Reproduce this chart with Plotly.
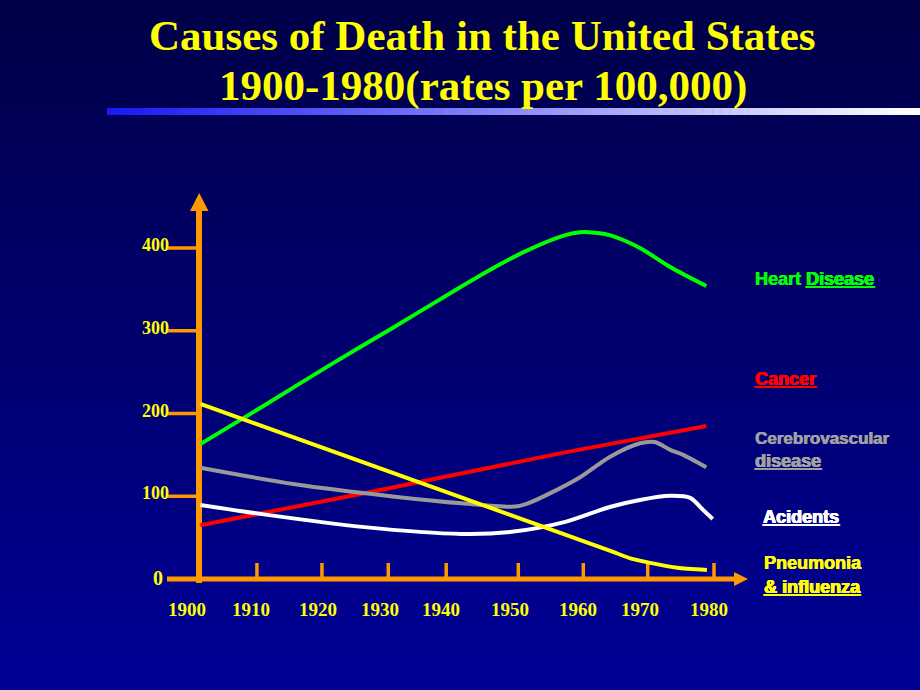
import plotly.graph_objects as go

# ---------------- data ----------------
heart_years = [1900.2, 1910.0, 1920.0, 1930.0, 1939.8, 1946.0, 1951.1, 1956.9, 1959.2, 1961.5, 1963.8, 1968.5, 1973.2, 1978.8]
heart = [163, 209, 257, 303, 349, 377, 397.5, 415.5, 419, 418.5, 415.5, 400, 377, 354]

cancer_years = [1900.2, 1925.3, 1956.9, 1978.8]
cancer = [65, 103, 153, 185]

cerebro_years = [1900.2, 1914.9, 1930.4, 1940.8, 1949.1, 1951.1, 1954.5, 1959.2, 1963.8, 1968.5, 1970.8, 1973.2, 1975.2, 1978.8]
cerebro = [134.5, 114.5, 99.5, 91.5, 87.5, 91.5, 103.5, 123, 147.5, 164, 165.5, 156, 150, 135]

accidents_years = [1900.2, 1909.7, 1925.3, 1940.8, 1948.6, 1956.9, 1963.8, 1968.5, 1973.2, 1976.3, 1978.3, 1979.8]
accidents = [89.5, 78.5, 63, 54.5, 57, 69, 87, 95.5, 100.5, 98, 83.5, 72.5]

pneumonia_years = [1900.2, 1930.0, 1963.8, 1967.0, 1970.1, 1974.3, 1978.9]
pneumonia = [211.7, 128.6, 34.3, 25.0, 19.5, 13.5, 11]

x_tick_labels = ["1900", "1910", "1920", "1930", "1940", "1950", "1960", "1970", "1980"]
x_label_pos = [1898.1, 1908.1, 1918.5, 1928.1, 1937.6, 1948.3, 1958.9, 1968.5, 1979.2]
x_tick_marks = [1909.0, 1919.1, 1929.4, 1938.4, 1949.6, 1959.7, 1969.7, 1980.0]
y_tick_vals = [100, 200, 300, 400]
y_tick_labels = ["100", "200", "300", "400"]

title_line1 = "Causes of Death in the United States"
title_line2 = "1900-1980(rates per 100,000)"

# ---------------- geometry helpers ----------------
W, H = 920, 690
X0_PX, PX_PER_YEAR = 199.0, 6.4375
Y0_PX, PX_PER_UNIT = 579.0, 0.8275


def xd(px):
    return 1900 + (px - X0_PX) / PX_PER_YEAR


def yd(py):
    return (Y0_PX - py) / PX_PER_UNIT


ORANGE = "#FF9900"
YELLOW = "#FFFF00"

fig = go.Figure()

series = [
    (heart_years, heart, "#00FF00", "Heart Disease", 0.8),
    (cancer_years, cancer, "#FF0000", "Cancer", 0.8),
    (cerebro_years, cerebro, "#999999", "Cerebrovascular disease", 0.8),
    (accidents_years, accidents, "#FFFFFF", "Acidents", 0.8),
    (pneumonia_years, pneumonia, "#FFFF00", "Pneumonia & influenza", 0.6),
]
for xs, ys, col, name, sm in series:
    fig.add_trace(go.Scatter(x=xs, y=ys, mode="lines", name=name,
                             line=dict(color=col, width=4, shape="spline", smoothing=sm),
                             hoverinfo="skip"))

shapes = []
# background gradient
N = 69
top = (0, 0, 72)
bot = (0, 0, 150)
for i in range(N):
    t = i / (N - 1)
    c = tuple(int(round(top[k] + (bot[k] - top[k]) * t)) for k in range(3))
    shapes.append(dict(type="rect", xref="paper", yref="paper",
                       x0=0, x1=1, y0=1 - (i + 1) / N - 0.001, y1=1 - i / N,
                       fillcolor="rgb(%d,%d,%d)" % c, line=dict(width=0), layer="below"))

# gradient bar under the title
bx0, bx1, by0, by1 = 107, 920, 108, 115
M = 90
left = (25, 25, 245)
right = (255, 255, 255)
for i in range(M):
    t = i / (M - 1)
    c = tuple(int(round(left[k] + (right[k] - left[k]) * t)) for k in range(3))
    shapes.append(dict(type="rect", xref="paper", yref="paper",
                       x0=(bx0 + (bx1 - bx0) * i / M) / W, x1=(bx0 + (bx1 - bx0) * (i + 1) / M + 0.5) / W,
                       y0=1 - by1 / H, y1=1 - by0 / H,
                       fillcolor="rgb(%d,%d,%d)" % c, line=dict(width=0), layer="below"))

# y axis line with arrow
shapes.append(dict(type="line", x0=1900, x1=1900, y0=yd(583), y1=yd(208),
                   line=dict(color=ORANGE, width=6), layer="below"))
shapes.append(dict(type="path",
                   path="M %f,%f L %f,%f L %f,%f Z" % (xd(190), yd(211), xd(208.5), yd(211), xd(199.2), yd(193)),
                   fillcolor=ORANGE, line=dict(width=0), layer="below"))
# x axis line with arrow
shapes.append(dict(type="line", x0=xd(167), x1=xd(737), y0=0, y1=0,
                   line=dict(color=ORANGE, width=5), layer="below"))
shapes.append(dict(type="path",
                   path="M %f,%f L %f,%f L %f,%f Z" % (xd(734), yd(572), xd(734), yd(586), xd(748), yd(579)),
                   fillcolor=ORANGE, line=dict(width=0), layer="below"))
# y tick marks
for v in y_tick_vals:
    shapes.append(dict(type="line", x0=xd(167), x1=1900, y0=v, y1=v,
                       line=dict(color=ORANGE, width=3.5), layer="below"))
# x tick marks
for xv in x_tick_marks:
    shapes.append(dict(type="line", x0=xv, x1=xv, y0=0, y1=yd(563),
                       line=dict(color=ORANGE, width=3.5), layer="below"))

annotations = []
tfont = dict(family="Liberation Serif, Times New Roman, serif", size=43, color=YELLOW)
annotations.append(dict(x=482 / W, y=1 - 35 / H, xref="paper", yref="paper", text="<b>%s</b>" % title_line1,
                        showarrow=False, font=tfont, xanchor="center", yanchor="middle"))
annotations.append(dict(x=483 / W, y=1 - 86 / H, xref="paper", yref="paper", text="<b>%s</b>" % title_line2,
                        showarrow=False, font=tfont, xanchor="center", yanchor="middle"))

yfont = dict(family="Liberation Serif, Times New Roman, serif", size=18, color=YELLOW)
xfont = dict(family="Liberation Serif, Times New Roman, serif", size=19, color=YELLOW)
for v, lab in zip(y_tick_vals, y_tick_labels):
    annotations.append(dict(x=xd(171), y=v, text="<b>%s</b>" % lab, showarrow=False, font=yfont,
                            xanchor="right", yanchor="middle", yshift=3))
annotations.append(dict(x=xd(165), y=0, text="<b>0</b>", showarrow=False,
                        font=dict(family="Liberation Serif, Times New Roman, serif", size=20, color=YELLOW),
                        xanchor="right", yanchor="middle", yshift=1))
for xv, lab in zip(x_label_pos, x_tick_labels):
    annotations.append(dict(x=xv, y=yd(609), text="<b>%s</b>" % lab, showarrow=False, font=xfont,
                            xanchor="center", yanchor="middle"))

sfont = "Liberation Sans, Arial, sans-serif"
legend_labels = [
    (753, 279, "<b>Heart <u>Disease</u></b>", "#00FF00", 18),
    (753, 379, "<b><u>Cancer</u></b>", "#FF0000", 18),
    (753, 438, "<b>Cerebrovascular</b>", "#A0A0A0", 17),
    (753, 461, "<b><u>disease</u></b>", "#A0A0A0", 18),
    (761, 517, "<b><u>Acidents</u></b>", "#FFFFFF", 18),
    (762, 563, "<b>Pneumonia</b>", "#FFFF00", 18),
    (762, 587, "<b><u>&amp; influenza</u></b>", "#FFFF00", 18),
]
for px, py, txt, col, fs in legend_labels:
    annotations.append(dict(x=px / W, y=1 - py / H, xref="paper", yref="paper", text=txt, showarrow=False,
                            font=dict(family=sfont, size=fs, color=col,
                                      shadow="0.5px 0 0 %s, -0.3px 0 0 %s" % (col, col)),
                            xanchor="left", yanchor="middle"))

fig.update_layout(
    width=W, height=H,
    margin=dict(l=0, r=0, t=0, b=0),
    paper_bgcolor="rgb(0,0,110)",
    plot_bgcolor="rgba(0,0,0,0)",
    showlegend=False,
    xaxis=dict(range=[xd(0), xd(W)], visible=False, fixedrange=True),
    yaxis=dict(range=[yd(H), yd(0)], visible=False, fixedrange=True),
    shapes=shapes,
    annotations=annotations,
)

fig.write_html("out.html", config={"displayModeBar": False},
               post_script="document.body.style.margin='0';document.body.style.overflow='hidden';"
                           "document.body.style.background='rgb(0,0,150)';")
